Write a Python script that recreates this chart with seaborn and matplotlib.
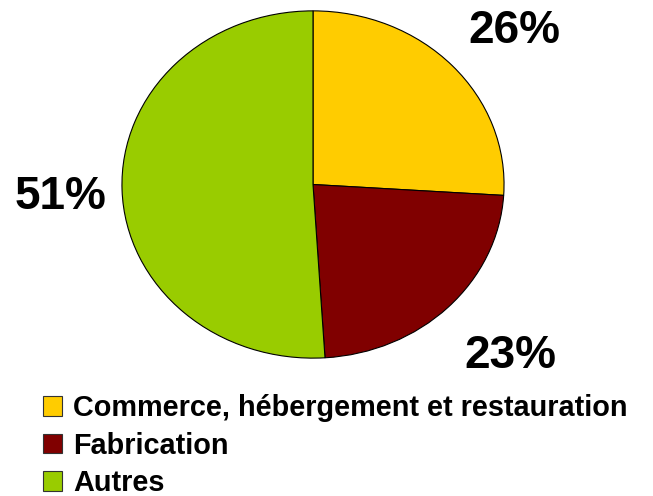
import matplotlib
matplotlib.use("Agg")
import matplotlib.pyplot as plt
import seaborn as sns
from matplotlib.patches import Patch

sns.set_style("white")
plt.rcParams['font.family'] = ['Liberation Sans', 'DejaVu Sans']
plt.rcParams['text.color'] = 'black'

categories = ["Commerce, hébergement et restauration", "Fabrication", "Autres"]
values = [26, 23, 51]
colors = ["#FFCC00", "#800000", "#99CC00"]
pct_labels = ["26%", "23%", "51%"]

W, H = 653, 496
fig = plt.figure(figsize=(W / 100, H / 100), dpi=100)
ax = fig.add_axes([121 / W, (H - 359) / H, 384 / W, 349 / H])

wedges, _ = ax.pie(values, colors=colors, startangle=90, counterclock=False,
                   radius=1.0, wedgeprops=dict(edgecolor="black", linewidth=0.8))
ax.set_aspect("auto")
ax.set_xlim(-1.005, 1.005)
ax.set_ylim(-1.005, 1.005)

# percentage labels (figure pixel positions: center x, baseline y)
label_pos = [(514, 43), (510, 368), (61, 209)]
for (px, py), txt in zip(label_pos, pct_labels):
    fig.text(px / W, 1 - py / H, txt, ha="center", va="baseline",
             fontsize=33, fontweight="bold", color="black")

handles = [Patch(facecolor=c, edgecolor="#333333", linewidth=0.8) for c in colors]
leg = fig.legend(handles, categories, loc="upper left",
                 bbox_to_anchor=(43 / W, 1 - 394 / H), frameon=False,
                 prop=dict(size=20.8, weight="bold"),
                 handlelength=0.66, handleheight=0.66, handletextpad=0.38,
                 labelspacing=0.33, borderaxespad=0, borderpad=0)
for t in leg.get_texts():
    t.set_color("black")

fig.savefig("out.png", dpi=100)
